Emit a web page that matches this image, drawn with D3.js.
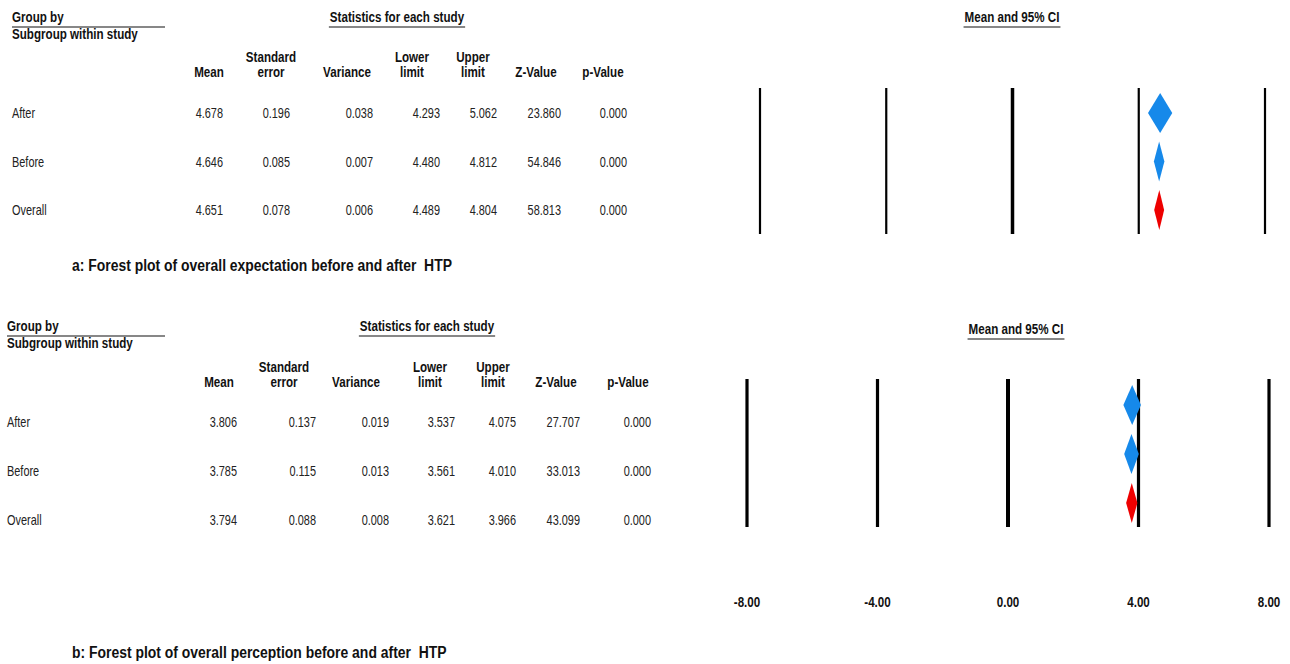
<!DOCTYPE html>
<html>
<head>
<meta charset="utf-8">
<script src="https://cdn.jsdelivr.net/npm/d3@7"></script>
<style>
  body { margin: 0; background: #fff; }
  svg text { font-family: "Liberation Sans Narrow", "Arial Narrow", "Liberation Sans", sans-serif; fill: #111; white-space: pre; }
  .hd { font-weight: bold; font-size: 14px; }
  .val { font-size: 14px; fill: #222; }
  .cap { font-weight: bold; font-size: 17px; }
</style>
</head>
<body>
<div id="chart"></div>
<script>
const groups = ["After", "Before", "Overall"]
const headers = [["Mean"], ["Standard", "error"], ["Variance"], ["Lower", "limit"], ["Upper", "limit"], ["Z-Value"], ["p-Value"]]
const tickValues = [-8, -4, 0, 4, 8]

// a: expectation
const meanA = [4.678, 4.646, 4.651]
const seA = [0.196, 0.085, 0.078]
const varA = [0.038, 0.007, 0.006]
const lowerA = [4.293, 4.480, 4.489]
const upperA = [5.062, 4.812, 4.804]
const zA = [23.860, 54.846, 58.813]
const pA = [0.000, 0.000, 0.000]

// b: perception
const meanB = [3.806, 3.785, 3.794]
const seB = [0.137, 0.115, 0.088]
const varB = [0.019, 0.013, 0.008]
const lowerB = [3.537, 3.561, 3.621]
const upperB = [4.075, 4.010, 3.966]
const zB = [27.707, 33.013, 43.099]
const pB = [0.000, 0.000, 0.000]

// the original uses a condensed face, squeeze regular glyphs to match
const squeeze = {hd: 0.83, val: 0.78, cap: 0.82}

const svg = d3.select("#chart")
    .append("svg")
    .attr("width", 1290)
    .attr("height", 664)

function txt(g, x, y, s, cls, anchor) {
    return g.append("text")
        .attr("class", cls)
        .attr("transform", `translate(${x},${y}) scale(${squeeze[cls]},1)`)
        .attr("text-anchor", anchor || "start")
        .text(s)
}

function panel(p) {
    const g = svg.append("g")
    const cols = [p.mean, p.se, p.vari, p.lower, p.upper, p.z, p.pv]

    // top-left header
    txt(g, p.left, p.top, "Group by", "hd")
    g.append("line").attr("x1", p.left).attr("x2", 165).attr("y1", p.top + 5).attr("y2", p.top + 5)
        .attr("stroke", "#111").attr("stroke-width", 1.2)
    txt(g, p.left, p.top + 17, "Subgroup within study", "hd")

    // underlined titles
    function uTitle(x, y, s) {
        const t = txt(g, x, y, s, "hd", "middle")
        const w = t.node().getComputedTextLength() * squeeze.hd
        g.append("line").attr("x1", x - w / 2 - 1).attr("x2", x + w / 2 + 1)
            .attr("y1", y + 5).attr("y2", y + 5).attr("stroke", "#111").attr("stroke-width", 1.2)
    }
    uTitle(p.statsX, p.top, "Statistics for each study")
    uTitle(p.ciX, p.ciY, "Mean and 95% CI")

    // column headers
    headers.forEach((h, i) => {
        h.forEach((line, j) => {
            txt(g, p.headX[i], p.headY - (h.length - 1 - j) * 15, line, "hd", "middle")
        })
    })

    const y = d3.scalePoint().domain(groups).range(p.rowRange)

    // row labels and values
    groups.forEach((grp, r) => {
        txt(g, p.left, y(grp) + 5, grp, "val")
        cols.forEach((c, i) => {
            txt(g, p.valX[i], y(grp) + 5, d3.format(".3f")(c[r]), "val", "end")
        })
    })

    // forest area
    const x = d3.scaleLinear().domain([-8, 8]).range(p.xRange)
    g.selectAll(".ref")
        .data(tickValues)
        .join("line")
        .attr("x1", d => x(d)).attr("x2", d => x(d))
        .attr("y1", p.lineY[0]).attr("y2", p.lineY[1])
        .attr("stroke", "#000")
        .attr("stroke-width", d => d === 0 ? p.zeroW : p.lineW)

    const dh = 20
    g.selectAll(".dia")
        .data(groups)
        .join("path")
        .attr("d", (d, i) => {
            const cy = y(d) + p.diaOff
            return `M${x(p.lower[i])},${cy} L${x(p.mean[i])},${cy - dh} L${x(p.upper[i])},${cy} L${x(p.mean[i])},${cy + dh} Z`
        })
        .attr("fill", d => d === "Overall" ? "#ee0000" : "#1689ea")

    if (p.showTicks) {
        tickValues.forEach(d => {
            txt(g, x(d), p.tickY, d3.format(".2f")(d).replace("\u2212", "-"), "hd", "middle")
        })
    }

    txt(g, 72, p.capY, p.caption, "cap")
}

panel({
    mean: meanA, se: seA, vari: varA, lower: lowerA, upper: upperA, z: zA, pv: pA,
    left: 12, top: 22, statsX: 397, ciX: 1012, ciY: 22,
    headX: [209, 271, 347, 412, 473, 536, 603], headY: 77,
    valX: [223, 290, 373, 440, 497, 561, 627],
    rowRange: [113, 210],
    xRange: [760, 1265], lineY: [88, 234], lineW: 2.2, zeroW: 3.5, diaOff: 0,
    showTicks: false,
    capY: 271, caption: "a: Forest plot of overall expectation before and after  HTP"
})

panel({
    mean: meanB, se: seB, vari: varB, lower: lowerB, upper: upperB, z: zB, pv: pB,
    left: 7, top: 331, statsX: 427, ciX: 1016, ciY: 334,
    headX: [219, 284, 356, 430, 493, 556, 628], headY: 387,
    valX: [237, 316, 389, 455, 516, 580, 651],
    rowRange: [422, 520],
    xRange: [747, 1269], lineY: [379, 527], lineW: 3.2, zeroW: 4, diaOff: -17,
    showTicks: true, tickY: 607,
    capY: 658, caption: "b: Forest plot of overall perception before and after  HTP"
})
</script>
</body>
</html>
